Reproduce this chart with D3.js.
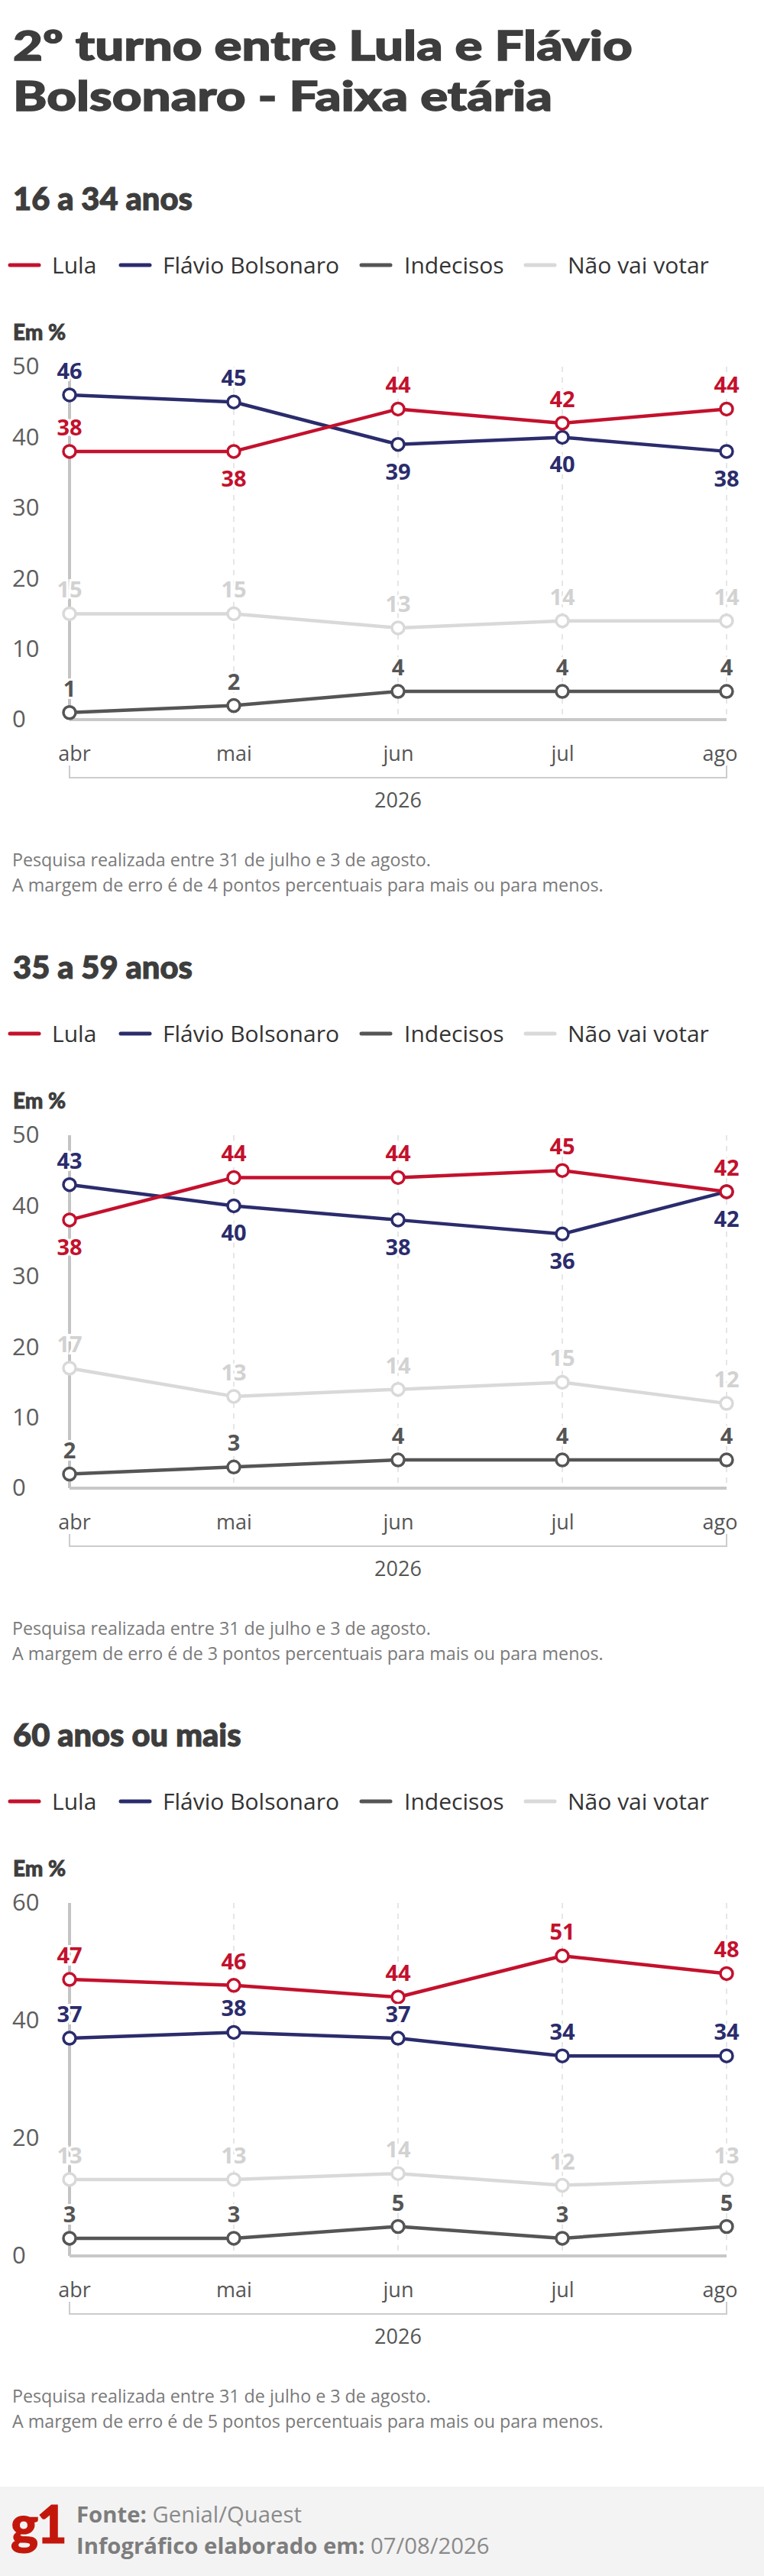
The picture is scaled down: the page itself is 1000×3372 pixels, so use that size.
<!DOCTYPE html>
<html lang="pt-BR">
<head>
<meta charset="utf-8">
<title>2º turno entre Lula e Flávio Bolsonaro - Faixa etária</title>
<script src="https://cdn.jsdelivr.net/npm/d3@7"></script>
<style>
  html, body { margin: 0; padding: 0; background: #fff; }
  svg { display: block; font-family: "Open Sans", "Noto Sans", sans-serif; }
  .heavy { font-family: Lato, "Open Sans", sans-serif; font-weight: 900; }
</style>
</head>
<body>
<div id="chart"></div>
<script>
// Dados
const months = ['abr', 'mai', 'jun', 'jul', 'ago'];
const yearLabel = '2026';
const seriesNames = ['Lula', 'Flávio Bolsonaro', 'Indecisos', 'Não vai votar'];
const groupTitles = ['16 a 34 anos', '35 a 59 anos', '60 anos ou mais'];

const lula16 = [38, 38, 44, 42, 44];
const flavio16 = [46, 45, 39, 40, 38];
const indecisos16 = [1, 2, 4, 4, 4];
const naoVota16 = [15, 15, 13, 14, 14];

const lula35 = [38, 44, 44, 45, 42];
const flavio35 = [43, 40, 38, 36, 42];
const indecisos35 = [2, 3, 4, 4, 4];
const naoVota35 = [17, 13, 14, 15, 12];

const lula60 = [47, 46, 44, 51, 48];
const flavio60 = [37, 38, 37, 34, 34];
const indecisos60 = [3, 3, 5, 3, 5];
const naoVota60 = [13, 13, 14, 12, 13];

const ticks50 = [0, 10, 20, 30, 40, 50];
const ticks60 = [0, 20, 40, 60];

const margins = [4, 3, 5];

// Lado do rótulo de cada ponto (acima / abaixo)
const lulaSide16 = ['up', 'down', 'up', 'up', 'up'];
const flavioSide16 = ['up', 'up', 'down', 'down', 'down'];
const lulaSide35 = ['down', 'up', 'up', 'up', 'up'];
const flavioSide35 = ['up', 'down', 'down', 'down', 'down'];
const allUp = ['up', 'up', 'up', 'up', 'up'];

const colors = ['#c3112d', '#2b2c6c', '#555555', '#d9d9d9'];
const labelColors = ['#c3112d', '#2b2c6c', '#555555', '#d2d2d2'];

const groups = [
    { title: groupTitles[0], ticks: ticks50, series: [lula16, flavio16, indecisos16, naoVota16],
      sides: [lulaSide16, flavioSide16, allUp, allUp], margin: margins[0] },
    { title: groupTitles[1], ticks: ticks50, series: [lula35, flavio35, indecisos35, naoVota35],
      sides: [lulaSide35, flavioSide35, allUp, allUp], margin: margins[1] },
    { title: groupTitles[2], ticks: ticks60, series: [lula60, flavio60, indecisos60, naoVota60],
      sides: [allUp, allUp, allUp, allUp], margin: margins[2] }
];

const width = 1000;
const height = 3372;
const sectionOffsets = [275, 1281, 2286];

const svg = d3.select('#chart').append('svg')
    .attr('width', width)
    .attr('height', height);

// Ajusta o tamanho da fonte para uma largura alvo
function fitWidth(sel, target) {
    const w = sel.node().getComputedTextLength();
    const fs = parseFloat(sel.attr('font-size'));
    const size = fs * target / w;
    sel.attr('font-size', size);
    return size;
}

// Título: fonte larga e pesada (alargada na horizontal)
const titleLines = ['2º turno entre Lula e Flávio', 'Bolsonaro - Faixa etária'];
const titleBaselines = [79, 145];
const titleTexts = titleLines.map((txt, i) => svg.append('text')
    .attr('class', 'heavy')
    .attr('x', 0).attr('y', 0)
    .attr('fill', '#3d3d3d')
    .attr('stroke', '#3d3d3d')
    .attr('stroke-width', 1.4)
    .attr('font-size', 54)
    .text(txt));
const titleScale = 811 / titleTexts[0].node().getComputedTextLength();
titleTexts.forEach((t, i) => {
    t.attr('transform', `translate(17,${titleBaselines[i]}) scale(${titleScale},1)`);
});

let subtitleSize = null;
let legendSize = null;
let noteSize = null;
const legendTexts = [];

groups.forEach((grp, gi) => {
    const sb = sectionOffsets[gi];
    const g = svg.append('g');

    // Subtítulo
    const st = g.append('text')
        .attr('class', 'heavy')
        .attr('x', 17).attr('y', sb)
        .attr('fill', '#3d3d3d')
        .attr('stroke', '#3d3d3d')
        .attr('stroke-width', 1.1)
        .attr('font-size', 36)
        .text(grp.title);
    if (subtitleSize === null) {
        subtitleSize = fitWidth(st, 235);
    } else {
        st.attr('font-size', subtitleSize);
    }

    // Legenda
    const legendSwatchX = [13, 158, 473, 688];
    const legendTextX = [68, 213, 529, 743];
    const legY = sb + 72;
    seriesNames.forEach((name, i) => {
        g.append('line')
            .attr('x1', legendSwatchX[i]).attr('x2', legendSwatchX[i] + 38)
            .attr('y1', legY).attr('y2', legY)
            .attr('stroke', colors[i])
            .attr('stroke-width', 5)
            .attr('stroke-linecap', 'round');
        const lt = g.append('text')
            .attr('x', legendTextX[i]).attr('y', legY)
            .attr('dy', '0.35em')
            .attr('fill', '#333')
            .attr('font-size', 30)
            .text(name);
        legendTexts.push(lt);
        if (i === 3 && legendSize === null) {
            legendSize = fitWidth(lt, 185);
        }
    });

    g.append('text')
        .attr('class', 'heavy')
        .attr('x', 17).attr('y', sb + 170)
        .attr('fill', '#3d3d3d')
        .attr('stroke', '#3d3d3d')
        .attr('stroke-width', 0.8)
        .attr('font-size', 28)
        .text('Em %');

    // Escalas
    const y0 = sb + 667;
    const yTop = sb + 205;
    const x = d3.scalePoint().domain(months).range([91, 951]);
    const y = d3.scaleLinear()
        .domain([0, d3.max(grp.ticks)])
        .range([y0, yTop]);

    // Eixo Y (rótulos)
    const yAxis = g.append('g')
        .attr('transform', 'translate(16,0)')
        .call(d3.axisLeft(y).tickValues(grp.ticks).tickSize(0).tickPadding(0));
    yAxis.select('.domain').remove();
    yAxis.selectAll('text')
        .attr('text-anchor', 'start')
        .attr('x', 0)
        .attr('fill', '#5e5e5e')
        .style('font-size', '31px')
        .style('font-family', '"Open Sans", sans-serif');

    // Linhas verticais
    g.selectAll('.grid')
        .data(months)
        .enter()
        .append('line')
        .attr('x1', d => x(d)).attr('x2', d => x(d))
        .attr('y1', y(d3.max(grp.ticks))).attr('y2', y0)
        .attr('stroke', (d, i) => i === 0 ? '#c4c4c4' : '#dedede')
        .attr('stroke-width', (d, i) => i === 0 ? 4 : 1.5)
        .attr('stroke-dasharray', (d, i) => i === 0 ? null : '7,7');

    // Linha de base
    g.append('line')
        .attr('x1', x(months[0])).attr('x2', x(months[months.length - 1]))
        .attr('y1', y(0)).attr('y2', y(0))
        .attr('stroke', '#c8c8c8')
        .attr('stroke-width', 4);

    // Eixo X
    const xAxis = g.append('g')
        .attr('transform', `translate(0, ${y0})`)
        .call(d3.axisBottom(x).tickSize(0).tickPadding(0));
    xAxis.select('.domain').remove();
    xAxis.selectAll('text')
        .attr('y', 45)
        .attr('dy', '0.35em')
        .attr('dx', (d, i) => i === 0 ? 6 : (i === months.length - 1 ? -9 : 0))
        .attr('fill', '#555')
        .style('font-size', '27px')
        .style('font-family', '"Open Sans", sans-serif');

    // Chave do ano
    const bx0 = x(months[0]);
    const bx1 = x(months[months.length - 1]);
    g.append('path')
        .attr('d', `M${bx0},${y0 + 60}V${y0 + 76}H${bx1}V${y0 + 60}`)
        .attr('fill', 'none')
        .attr('stroke', '#cccccc')
        .attr('stroke-width', 2);
    g.append('text')
        .attr('x', (bx0 + bx1) / 2).attr('y', y0 + 106)
        .attr('dy', '0.35em')
        .attr('text-anchor', 'middle')
        .attr('fill', '#555')
        .attr('font-size', 27)
        .text(yearLabel);

    // Séries (de trás para frente)
    const line = d3.line()
        .x((d, i) => x(months[i]))
        .y(d => y(d));
    const order = [3, 2, 1, 0];
    order.forEach(si => {
        g.append('path')
            .datum(grp.series[si])
            .attr('d', line)
            .attr('fill', 'none')
            .attr('stroke', colors[si])
            .attr('stroke-width', 4.5)
            .attr('stroke-linejoin', 'round');
    });
    order.forEach(si => {
        g.selectAll(null)
            .data(grp.series[si])
            .enter()
            .append('circle')
            .attr('cx', (d, i) => x(months[i]))
            .attr('cy', d => y(d))
            .attr('r', 8)
            .attr('fill', '#fff')
            .attr('stroke', colors[si])
            .attr('stroke-width', 3.5);
    });
    // Rótulos de valor
    order.forEach(si => {
        const sides = grp.sides[si];
        g.selectAll(null)
            .data(grp.series[si])
            .enter()
            .append('text')
            .attr('x', (d, i) => x(months[i]))
            .attr('y', (d, i) => y(d) + (sides[i] === 'up' ? -21 : 46))
            .attr('text-anchor', 'middle')
            .attr('fill', labelColors[si])
            .attr('stroke', '#fff')
            .attr('stroke-width', 6)
            .attr('paint-order', 'stroke')
            .attr('font-size', 29)
            .attr('font-weight', 700)
            .text(d => d);
    });

    // Notas
    const n1 = g.append('text')
        .attr('x', 16).attr('y', y0 + 192)
        .attr('fill', '#7a7a7a')
        .attr('font-size', 24)
        .text('Pesquisa realizada entre 31 de julho e 3 de agosto.');
    if (noteSize === null) {
        noteSize = fitWidth(n1, 548);
    } else {
        n1.attr('font-size', noteSize);
    }
    g.append('text')
        .attr('x', 16).attr('y', y0 + 225)
        .attr('fill', '#7a7a7a')
        .attr('font-size', noteSize)
        .text(`A margem de erro é de ${grp.margin} pontos percentuais para mais ou para menos.`);
});

// Tamanho de legenda uniforme
legendTexts.forEach(lt => lt.attr('font-size', legendSize));

// Rodapé
svg.append('rect')
    .attr('x', 0).attr('y', 3255)
    .attr('width', width).attr('height', height - 3255)
    .attr('fill', '#f3f3f3');

svg.append('text')
    .attr('class', 'heavy')
    .attr('x', 14).attr('y', 3329)
    .attr('fill', '#c4170c')
    .attr('stroke', '#c4170c')
    .attr('stroke-width', 1.2)
    .attr('font-size', 68)
    .attr('letter-spacing', -2)
    .text('g1');

const f1 = svg.append('text')
    .attr('x', 100).attr('y', 3302)
    .attr('fill', '#7d7d7d')
    .attr('font-size', 28);
f1.append('tspan').attr('font-weight', 700).text('Fonte: ');
f1.append('tspan').attr('fill', '#8a8a8a').text('Genial/Quaest');
const footSize = fitWidth(f1, 295);

const f2 = svg.append('text')
    .attr('x', 100).attr('y', 3343)
    .attr('fill', '#7d7d7d')
    .attr('font-size', footSize);
f2.append('tspan').attr('font-weight', 700).text('Infográfico elaborado em: ');
f2.append('tspan').attr('fill', '#8a8a8a').text('07/08/2026');
</script>
</body>
</html>
